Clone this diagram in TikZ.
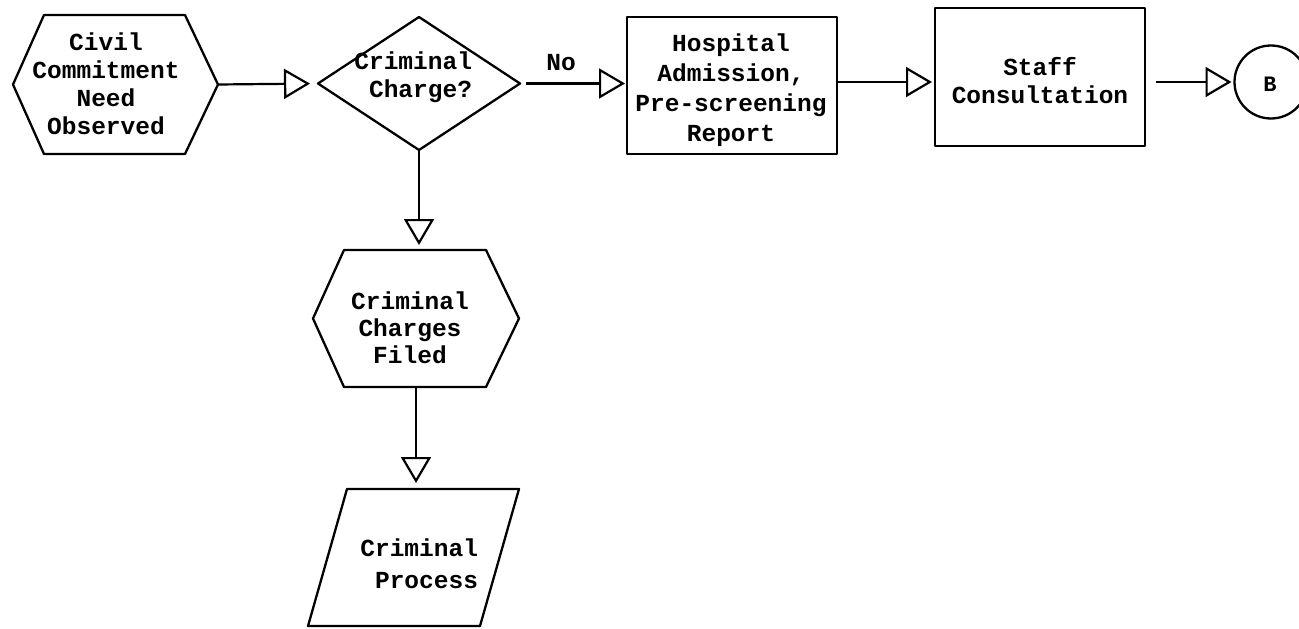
\documentclass[tikz,border=0pt]{standalone}
\usepackage{fontspec}
\setmonofont{Liberation Mono}
\usetikzlibrary{arrows.meta,calc}
\tikzset{
  box/.style={draw=none,rectangle,inner sep=0pt,outer sep=0pt},
  outline/.style={line width=2.3pt,line join=round},
  txt/.style={inner sep=0pt,outer sep=0pt,font=\ttfamily\bfseries\fontsize{24.5}{28}\selectfont},
  flow/.style={line width=2.2pt,-{Triangle[open,length=26pt,width=30pt,line width=2.2pt]}},
}
\begin{document}
\begin{tikzpicture}[x=1pt,y=-1pt]
\useasboundingbox (0,0) rectangle (1299,629);
\clip (0,0) rectangle (1299,629);
% shape boxes
\node[box,minimum width=205pt,minimum height=139pt] (hex1) at (115.5,84.5) {};
\node[box,minimum width=202pt,minimum height=133pt] (dia) at (419,83.5) {};
\node[box,minimum width=210pt,minimum height=137pt,draw,outline] (hosp) at (732,85.5) {};
\node[box,minimum width=210pt,minimum height=138pt,draw,outline] (staff) at (1040,77) {};
\node[box,circle,minimum size=73pt,draw,outline] (B) at (1271,82) {};
\node[box,minimum width=206pt,minimum height=137pt] (hex2) at (416,318.5) {};
\node[box,minimum width=211pt,minimum height=137pt] (para) at (413.5,557.5) {};
% outlines
\draw[outline] ($(hex1.north west)+(31,0)$) -- ($(hex1.north east)+(-33,0)$) -- (hex1.east)
  -- ($(hex1.south east)+(-33,0)$) -- ($(hex1.south west)+(31,0)$) -- (hex1.west) -- cycle;
\draw[outline] (dia.north) -- (dia.east) -- (dia.south) -- (dia.west) -- cycle;
\draw[outline] ($(hex2.north west)+(31,0)$) -- ($(hex2.north east)+(-33,0)$) -- (hex2.east)
  -- ($(hex2.south east)+(-33,0)$) -- ($(hex2.south west)+(31,0)$) -- (hex2.west) -- cycle;
\draw[outline] ($(para.north west)+(39,0)$) -- (para.north east) -- ($(para.south east)+(-39,0)$)
  -- (para.south west) -- cycle;
% texts
\node[txt,align=center] (t1) at (106,84) {Civil\\Commitment\\Need\\Observed};
\node[txt,align=right,anchor=east] (t2) at (472,77) {Criminal\\Charge?};
\node[txt] (no) at (561,63) {No};
\node[txt,align=center,font=\ttfamily\bfseries\fontsize{24.5}{30}\selectfont] (t3) at (731,90) {Hospital\\Admission,\\Pre-screening\\Report};
\node[txt,align=center] (t4) at (1040,81) {Staff\\Consultation};
\node[txt,font=\ttfamily\bfseries\fontsize{22}{24}\selectfont] (t5) at (1270,84) {B};
\node[txt,align=center,font=\ttfamily\bfseries\fontsize{24.5}{27}\selectfont] (t6) at (410,328) {Criminal\\Charges\\Filed};
\node[txt,align=right,anchor=east,font=\ttfamily\bfseries\fontsize{24.5}{32}\selectfont] (t7) at (478,564) {Criminal\\Process};
% connectors
\draw[flow,shorten >=8pt] (hex1.east) -- (dia.west);
\draw[flow,shorten <=6pt,shorten >=2pt] (dia.east) -- (dia.east -| hosp.west);
\draw[flow,shorten >=3pt] (hosp.east |- B.west) -- (staff.west |- B.west);
\draw[flow,shorten <=11pt,shorten >=3pt] (staff.east |- B.west) -- (B.west);
\draw[flow,shorten >=5pt] (dia.south) -- (dia.south |- hex2.north);
\draw[flow,shorten >=6pt] (hex2.south) -- (hex2.south |- para.north);
\end{tikzpicture}
\end{document}
